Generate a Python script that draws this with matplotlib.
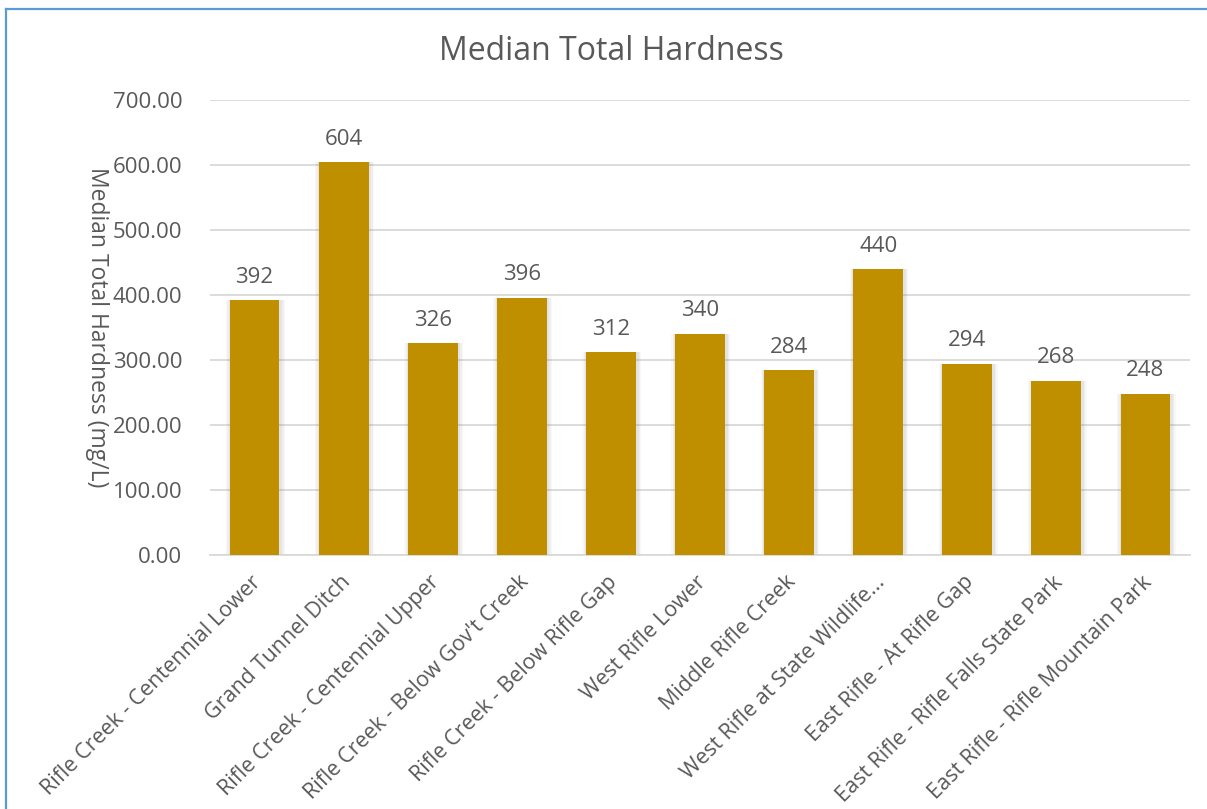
import matplotlib
matplotlib.use("Agg")
import matplotlib.pyplot as plt
from matplotlib.lines import Line2D
import matplotlib.transforms as mtransforms
import numpy as np

categories = [
    "Rifle Creek - Centennial Lower",
    "Grand Tunnel Ditch",
    "Rifle Creek - Centennial Upper",
    "Rifle Creek - Below Gov't Creek",
    "Rifle Creek - Below Rifle Gap",
    "West Rifle Lower",
    "Middle Rifle Creek",
    "West Rifle at State Wildlife...",
    "East Rifle - At Rifle Gap",
    "East Rifle - Rifle Falls State Park",
    "East Rifle - Rifle Mountain Park",
]
values = [392, 604, 326, 396, 312, 340, 284, 440, 294, 268, 248]
yticks = [0, 100, 200, 300, 400, 500, 600, 700]

plt.rcParams['font.family'] = ['Open Sans', 'DejaVu Sans']
text_color = '#595959'

fig = plt.figure(figsize=(12.07, 8.09), dpi=100)
ax = fig.add_axes([210/1207, 1-555/809, 980/1207, 455/809])

x = np.arange(len(categories))
width = 0.56
# soft shadow
for k, a in [(0.10, 0.05), (0.07, 0.07), (0.04, 0.09)]:
    ax.bar(x + 0.01, values, width=width + k, color='#808080', alpha=a, zorder=2, linewidth=0)
bars = ax.bar(x, values, width=width, color='#BF8F00', zorder=3, linewidth=0)

for xi, v in zip(x, values):
    ax.annotate(f"{v}", (xi, v), xytext=(0, 9), textcoords='offset points',
                ha='center', va='bottom', fontsize=16, color=text_color)

ax.set_xlim(-0.5, len(categories) - 0.5)
ax.set_ylim(0, 700)
ax.set_yticks(yticks)
ax.set_yticklabels([f"{t:.2f}" for t in yticks], fontsize=16, color=text_color)
ax.yaxis.grid(True, color='#D9D9D9', linewidth=1.3, zorder=0)
ax.set_axisbelow(True)
ax.tick_params(axis='y', length=0, pad=20)
ax.tick_params(axis='x', length=0, pad=12)
ax.set_xticks(x)
ax.set_xticklabels(categories, rotation=45, ha='right', va='top', rotation_mode='anchor',
                   fontsize=15.5, color=text_color)
offset = mtransforms.ScaledTranslation(-4/100, 0, fig.dpi_scale_trans)
for lbl in ax.get_xticklabels():
    lbl.set_transform(lbl.get_transform() + offset)
for s in ['top', 'right', 'left']:
    ax.spines[s].set_visible(False)
ax.spines['bottom'].set_color('#D9D9D9')
ax.spines['bottom'].set_linewidth(1.3)

ax.set_ylabel("Median Total Hardness (mg/L)", rotation=270, fontsize=16.5, color=text_color,
              va='bottom')
ax.yaxis.set_label_coords((85 - 210) / 980, 0.5)

fig.text(611/1207, 1 - 52/809, "Median Total Hardness", ha='center', va='center',
         fontsize=23, color=text_color)

# chart border (partial frame)
fig.add_artist(Line2D([6/1207, 6/1207], [0, 1 - 9/809], color='#5B9BD5', linewidth=1.6,
                      transform=fig.transFigure))
fig.add_artist(Line2D([6/1207, 1], [1 - 9/809, 1 - 9/809], color='#5B9BD5', linewidth=1.6,
                      transform=fig.transFigure))

fig.savefig("out.png", dpi=100)
